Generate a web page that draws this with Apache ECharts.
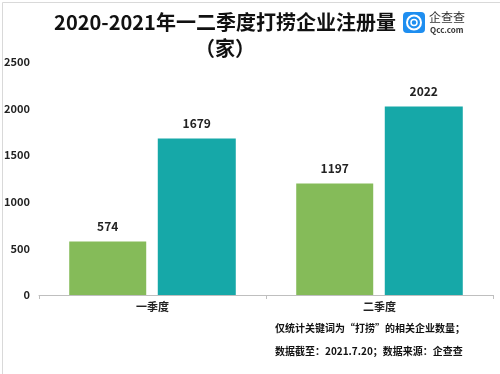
<!DOCTYPE html>
<html><head><meta charset="utf-8">
<script src="https://cdn.jsdelivr.net/npm/echarts@6/dist/echarts.min.js"></script>
<style>html,body{margin:0;padding:0;background:#fff}#c{width:500px;height:374px}</style>
</head><body><div id="c"></div>
<script>
var categories = ['一季度', '二季度'];
var series2020 = [574, 1197];
var series2021 = [1679, 2022];
var yTicks = [0, 500, 1000, 1500, 2000, 2500];

var FONT = '"Noto Sans CJK SC","Noto Sans",sans-serif';
var chart = echarts.init(document.getElementById('c'));
chart.setOption({
  animation: false,
  backgroundColor: '#fff',
  grid: {left: 39, right: 7, top: 62, bottom: 79},
  xAxis: {
    type: 'category', data: categories,
    axisLine: {lineStyle: {color: '#bfbfbf'}},
    axisTick: {show: true, length: 4, lineStyle: {color: '#bfbfbf'}},
    axisLabel: {color: '#222', fontSize: 11, fontWeight: 'bold', fontFamily: FONT, margin: 6}
  },
  yAxis: {
    type: 'value', min: yTicks[0], max: yTicks[yTicks.length - 1], interval: 500,
    splitLine: {show: false}, axisLine: {show: false}, axisTick: {show: false},
    axisLabel: {color: '#222', fontSize: 11, fontWeight: 'bold', fontFamily: FONT, margin: 9,
      formatter: function (v) { return String(v); }}
  },
  series: [
    {type: 'bar', data: series2020, barWidth: 77, barGap: '15%',
     itemStyle: {color: '#85bb59'},
     label: {show: true, position: 'top', distance: 9, color: '#222', fontSize: 12, fontWeight: 'bold', fontFamily: FONT}},
    {type: 'bar', data: series2021, barWidth: 78,
     itemStyle: {color: '#16a8a8'},
     label: {show: true, position: 'top', distance: 9, color: '#222', fontSize: 12, fontWeight: 'bold', fontFamily: FONT}}
  ],
  graphic: [
    {type: 'rect', left: 0, top: 0, shape: {width: 499, height: 373}, style: {fill: 'none', stroke: '#d9d9d9', lineWidth: 1}, silent: true, z: 10},
    {type: 'text', x: 225, y: 22, style: {text: '2020-2021年一二季度打捞企业注册量', font: 'bold 20px ' + FONT, fill: '#111', textAlign: 'center', textVerticalAlign: 'middle'}},
    {type: 'text', x: 225, y: 48, style: {text: '（家）', font: 'bold 20px ' + FONT, fill: '#111', textAlign: 'center', textVerticalAlign: 'middle'}},
    {type: 'rect', shape: {x: 403, y: 12, width: 22, height: 21, r: 4}, style: {fill: '#1e8ef0'}},
    {type: 'circle', shape: {cx: 414, cy: 22.5, r: 7}, style: {fill: 'none', stroke: '#fff', lineWidth: 2}},
    {type: 'circle', shape: {cx: 414, cy: 22.5, r: 3}, style: {fill: 'none', stroke: '#fff', lineWidth: 1.5}},
    {type: 'text', x: 429, y: 17, style: {text: '企查查', font: '12px ' + FONT, fill: '#333', textVerticalAlign: 'middle'}},
    {type: 'text', x: 430, y: 30, style: {text: 'Qcc.com', font: 'bold 8px ' + FONT, fill: '#333', textVerticalAlign: 'middle'}},
    {type: 'text', x: 275, y: 328, style: {text: '仅统计关键词为“打捞”的相关企业数量；', font: 'bold 10px ' + FONT, fill: '#111', textVerticalAlign: 'middle'}},
    {type: 'text', x: 275, y: 351, style: {text: '数据截至：2021.7.20；数据来源：企查查', font: 'bold 10px ' + FONT, fill: '#111', textVerticalAlign: 'middle'}}
  ]
});
</script></body></html>
